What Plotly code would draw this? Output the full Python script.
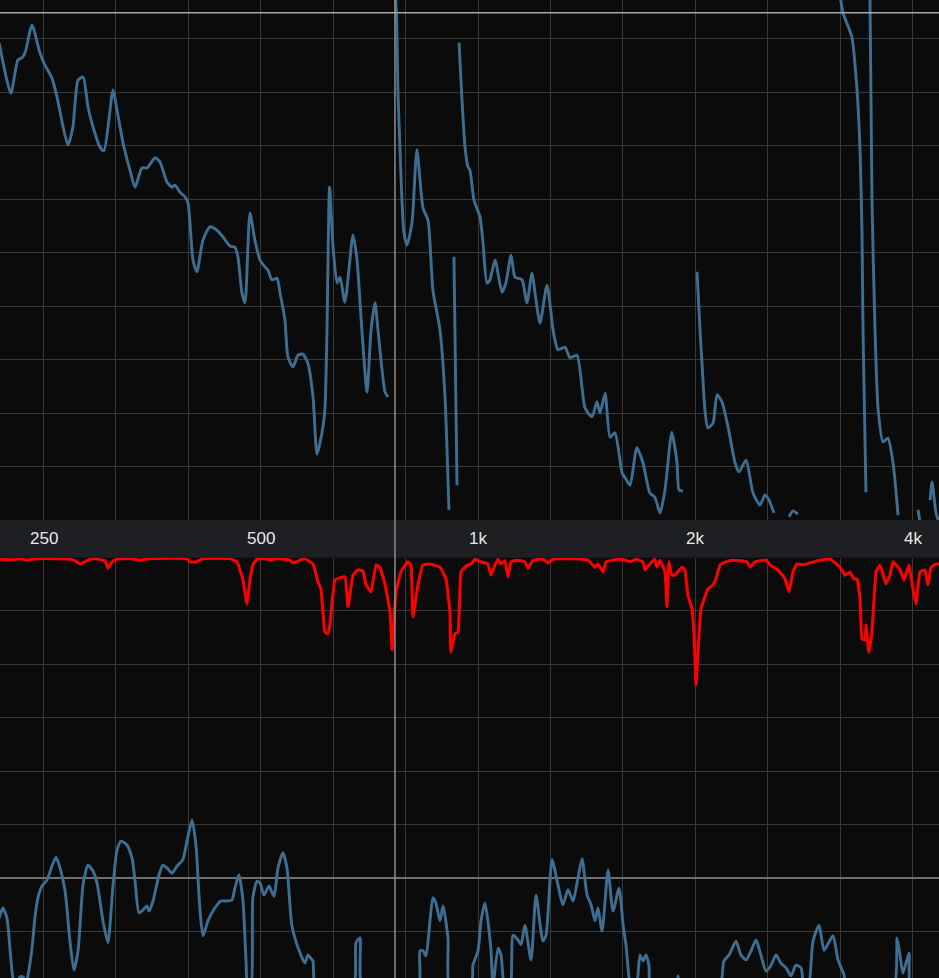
import math
import plotly.graph_objects as go

# ---------------- data ----------------
# frequency-axis gridlines (1/3 octave) and labels
grid_freqs = [250, 315, 397, 500, 630, 794, 1000, 1260, 1587, 2000, 2520, 3175, 4000]
label_freqs = [250, 500, 1000, 2000, 4000]
label_texts = ["250", "500", "1k", "2k", "4k"]

# top panel: magnitude (dB), None = gap in trace
mag_freq = [217, 225.3, 230.4, 233.4, 235.7, 241.0, 247.2, 251.2, 256.8, 261.0, 266.1, 270.3, 274.6, 279.1,
            283.6, 288.1, 292.7, 299.4, 303.2, 312.1, 316.1, 322.2, 329.4, 334.8, 342.2, 347.8, 356.9, 362.5,
            370.6, 376.6, 380.2, 386.2, 392.6, 396.4, 402.7, 407.8, 415.7, 425.1, 434.5, 443.2, 453.2, 460.3,
            464.8, 470.8, 475.4, 482.9, 490.7, 498.7, 506.7, 511.5, 518.0, 526.5, 531.6, 540.0, 545.1, 554.0,
            563.0, 572.0, 581.0, 590.6, 598.2, 607.7, 613.4, 617.5, 622.6, 629.6, 637.7, 643.7, 653.8, 671.0,
            679.6, 690.2, 701.7, 710.7, 719.8, 726.6, 743.2, 750.4, None,
            767.8, 771.6, 774.2, 779.2, 784.3, 789.4, 797.0, 809.7, 822.6, 838.8, 852.2, 865.6, 885.5, 899.7,
            911.1, None,
            925.8, 934.8, None,
            940.9, 949.9, 959.0, 968.1, 974.1, 986.9, 1006.1, 1015.7, 1028.5, 1038.5, 1055.4, 1079.2, 1092.7,
            1110.6, 1125.0, 1150.2, 1168.1, 1187.7, 1199.1, 1218.1, 1245.8, 1270.0, 1278.0, 1290.1, 1319.4,
            1340.8, 1370.7, 1406.5, 1438.2, 1460.9, 1475.3, 1499.3, 1523.2, 1547.2, 1582.8, 1598.1, 1623.4,
            1659.0, 1692.0, 1729.7, 1756.6, 1786.4, 1814.9, 1854.8, 1885.9, 1898.0, 1922.1, None,
            2010.2, 2029.4, 2042.2, 2061.4, 2080.6, 2115.5, 2142.6, 2176.5, 2219.1, 2269.3, 2298.1, 2350.3,
            2403.5, 2456.9, 2497.1, 2529.5, 2569.7, None,
            2696.0, 2730.2, 2773.0, None,
            3171.8, 3202.2, 3293.6, 3348.5, 3380.8, 3402.3, 3413.1, 3445.4, None,
            3489.5, 3512.3, 3546.5, 3580.7, 3637.7, 3694.7, 3756.3, 3816.7, None,
            4067.8, 4093.4, None,
            4227, 4254.1, 4308.2, 4362.4]
mag_db = [89.2, 79.8, 86.0, 86.4, 87.3, 92.5, 87.3, 85.0, 82.6, 79.1, 73.5, 70.1, 73.5, 82.2,
          82.8, 77.2, 73.5, 69.7, 69.0, 80.4, 76.6, 70.5, 65.4, 62.2, 65.8, 65.8, 67.7, 66.9,
          63.2, 62.2, 62.6, 61.3, 60.4, 59.3, 48.6, 46.4, 52.3, 54.8, 54.2, 52.9, 51.2, 51.0,
          49.2, 42.4, 40.6, 57.4, 52.3, 48.6, 47.3, 46.7, 44.9, 45.2, 42.4, 37.4, 30.5, 28.6,
          30.8, 31.0, 29.3, 23.0, 12.3, 16.3, 20.6, 35.5, 62.2, 51.0, 44.3, 45.4, 40.7, 53.3,
          48.6, 35.5, 23.9, 35.5, 40.6, 35.5, 23.9, 23.0, None,
          100, 92.2, 80.4, 69.7, 59.8, 53.6, 51.4, 55.5, 69.2, 58.3, 56.1, 43.0, 35.5, 23.0,
          1.9, None,
          49.2, 6.5, None,
          89.2, 78.5, 69.7, 66.0, 65.4, 59.8, 56.6, 51.8, 44.3, 44.9, 48.6, 42.6, 44.3,
          49.5, 45.4, 44.9, 40.6, 46.2, 42.4, 36.8, 43.9, 35.5, 33.6, 31.8, 32.3,
          30.3, 30.8, 20.9, 19.3, 22.1, 20.0, 23.7, 15.5, 16.3, 8.8, 7.9, 6.5,
          13.5, 10.7, 5.0, 4.3, 1.3, 5.6, 16.4, 10.7, 5.6, 5.4, None,
          46.4, 35.5, 29.3, 20.6, 17.2, 18.1, 23.4, 22.1, 17.4, 10.7, 9.0, 11.2,
          5.0, 2.8, 4.7, 3.7, 1.3, None,
          0.6, 1.7, 1.1, None,
          98.1, 94.8, 90.3, 80.4, 69.2, 53.6, 35.5, 5.2, None,
          98.1, 59.8, 35.5, 20.9, 14.6, 15.3, 10.7, 0.9, None,
          1.9, -0.4, None,
          3.7, 7.1, 1.3, -0.9]

# lower panel: coherence (red) and phase (blue), same axis units
coh_freq = [217, 226.8, 231.9, 237.2, 241.7, 249.6, 272.0, 276.4, 280.9, 287.2,
            292.7, 299.4, 304.2, 307.0, 311.1, 316.1, 329.4, 340.1, 351.2, 395.1,
            398.9, 407.8, 415.7, 453.2, 463.3, 472.4, 478.4, 482.9, 487.5, 493.9,
            501.9, 514.7, 526.5, 548.5, 554.0, 566.6, 575.6, 584.9, 590.6, 600.1,
            605.8, 613.4, 619.5, 623.6, 633.6, 653.8, 660.3, 671.0, 681.7, 692.4,
            699.4, 710.7, 722.0, 731.1, 743.2, 755.2, 760.0, 769.6, 781.8, 799.5,
            807.2, 812.3, 825.3, 838.8, 857.6, 885.5, 902.6, 914.0, 916.8, 928.2,
            937.9, 946.9, 962.0, 977.1, 990.1, 1009.3, 1031.7, 1041.9, 1055.4, 1065.6,
            1075.8, 1089.4, 1099.8, 1110.6, 1128.6, 1160.9, 1172.4, 1191.5, 1229.7, 1249.9,
            1270.0, 1397.5, 1420.1, 1451.8, 1465.6, 1489.7, 1504.1, 1537.6, 1561.5, 1603.2,
            1623.4, 1653.9, 1692.0, 1702.8, 1729.7, 1756.6, 1769.3, 1786.4, 1814.9, 1826.3,
            1837.7, 1854.8, 1873.8, 1916.0, 1934.1, 1952.3, 1978.2, 1991.0, 2003.8, 2023.0,
            2035.8, 2080.6, 2115.5, 2135.8, 2163.0, 2203.7, 2255.0, 2357.9, 2380.7, 2418.8,
            2505.3, 2537.5, 2602.0, 2661.9, 2696.0, 2730.2, 2764.4, 2819.4, 2882.7, 2976.5,
            3072.4, 3110.8, 3171.8, 3222.4, 3273.2, 3316.2, 3348.5, 3380.8, 3402.3, 3434.6,
            3445.4, 3477.6, 3512.3, 3557.9, 3603.5, 3672.0, 3720.1, 3756.3, 3840.9, 3889.2,
            3952.8, 4003.8, 4042.2, 4093.4, 4157.6, 4199.7, 4240.5, 4308.2, 4362.4]
coh_val = [59.6, 59.5, 59.7, 59.4, 59.6, 59.7, 59.6, 59.3, 58.7, 59.3,
           59.7, 59.5, 59.3, 57.9, 59.1, 59.6, 59.7, 59.4, 59.7, 59.7,
           59.1, 59.1, 59.7, 59.7, 59.1, 55.7, 51.2, 55.7, 58.5, 59.6,
           59.7, 59.5, 59.7, 59.4, 58.9, 59.4, 59.7, 59.1, 58.7, 55.3,
           54.0, 46.0, 45.6, 47.5, 55.7, 56.3, 50.7, 56.6, 57.6, 57.4,
           54.8, 53.5, 58.5, 58.1, 54.8, 49.7, 42.6, 53.5, 57.2, 59.1,
           58.5, 48.8, 54.8, 58.5, 58.7, 58.1, 55.9, 49.7, 42.2, 45.6,
           46.0, 57.2, 58.3, 58.7, 59.6, 59.1, 58.7, 56.6, 58.5, 59.6,
           58.7, 59.3, 56.3, 59.1, 59.4, 59.1, 57.9, 59.4, 59.6, 58.9,
           59.6, 59.6, 59.4, 58.1, 58.7, 57.2, 59.1, 59.4, 59.6, 59.4,
           59.1, 59.6, 59.1, 57.6, 58.7, 59.6, 58.1, 59.4, 57.2, 50.7,
           59.1, 56.6, 56.6, 58.1, 57.6, 52.9, 50.3, 45.4, 36.1, 45.4,
           50.3, 54.0, 54.8, 55.9, 58.5, 59.1, 59.4, 59.1, 58.1, 59.1,
           59.4, 58.5, 57.6, 55.9, 53.5, 57.2, 58.7, 58.5, 58.9, 59.4,
           59.6, 59.1, 58.1, 56.6, 57.2, 55.9, 55.9, 52.2, 44.7, 44.5,
           47.3, 42.2, 46.0, 57.2, 58.5, 55.0, 56.6, 59.1, 57.6, 55.7,
           58.5, 54.0, 51.2, 57.2, 57.6, 54.8, 58.1, 58.7, 58.7]

ph_freq = [217, 219.6, 222.5, 224.6, 226.8, 228.9, 231.9, 234.2, 236.5, 238.0, 241.0, 243.2, 245.6, 248.8,
           252.8, 256.8, 260.2, 263.5, 267.8, 272.0, 275.5, 279.1, 283.6, 288.1, 292.7, 296.5, 302.2, 307.0,
           312.1, 316.1, 320.1, 326.2, 331.6, 334.8, 339.0, 343.3, 347.6, 350.1, 354.6, 361.4, 365.9, 370.6,
           376.6, 382.6, 389.8, 395.1, 401.5, 406.5, 411.6, 415.7, 422.4, 431.8, 440.4, 448.9, 456.1, 460.3,
           466.3, 472.4, 476.9, 479.9, 484.4, 487.5, 493.9, 498.7, 505.1, 513.1, 521.4, 528.2, 536.6, 543.4,
           551.9, 561.2, 575.6, 581.0, 588.7, 590.6, 596.3, 671.0, 677.4, 686.0, 692.4, 825.3, 830.7, 838.8,
           846.8, 857.6, 865.6, 874.1, 885.5, 894.0, 908.3, 914.0, 977.1, 983.7, 999.7, 1009.3, 1022.1, 1041.3,
           1048.7, 1065.6, 1075.8, 1089.4, 1107.1, 1117.8, 1135.8, 1146.6, 1160.9, 1183.9, 1202.9, 1229.5,
           1241.8, 1266.0, 1290.1, 1310.3, 1332.2, 1353.6, 1375.0, 1393.0, 1415.6, 1433.7, 1451.8, 1465.6,
           1484.9, 1513.6, 1537.6, 1567.6, 1587.9, 1603.2, 1618.4, 1633.6, 1653.9, 1665.1, 1675.9, 1692.0,
           1708.2, 1724.3, 1735.1, 1879.9, 1891.9, 1904.0, 2156.2, 2190.1, 2226.3, 2276.6, 2312.4, 2350.3,
           2388.3, 2426.4, 2464.5, 2505.3, 2545.6, 2585.8, 2626.1, 2670.5, 2713.1, 2755.8, 2801.3, 2828.4,
           2864.6, 2909.9, 2966.9, 3014.8, 3101.2, 3151.4, 3212.4, 3232.7, 3756.3, 3804.6, 3840.9, 3877.1,
           3952.8, 3978.2, 4362.4]
ph_val = [-7.5, -5.6, -7.5, -13.1, -18.7, -19.8, -18.5, -18.5, -19.8, -18.1, -13.1, -7.5, -3.7, -1.5,
          -0.4, 2.2, 3.9, 1.9, -2.4, -11.8, -17.2, -13.6, -1.3, 2.4, 1.3, -0.9, -8.0, -12.1,
          -1.3, 5.2, 6.9, 6.2, 3.7, -0.6, -6.5, -6.0, -5.2, -6.2, -4.3, 0.6, 2.4, 1.9,
          0.9, 2.2, 3.4, 6.9, 10.8, 6.2, -5.6, -10.8, -8.0, -5.6, -4.3, -4.3, -4.1, -1.9,
          0.6, -4.3, -15.3, -20.9, -20.9, -3.7, -0.6, -0.9, -3.2, -1.5, -3.4, 1.9, 4.7, 1.9,
          -8.8, -12.5, -15.9, -14.4, -15.3, -15.5, -20.9, -20.9, -12.1, -11.2, -20.9, -20.9, -13.6, -13.6,
          -14.6, -8.0, -3.7, -4.7, -8.0, -5.2, -11.2, -20.9, -20.9, -16.3, -13.6, -8.0, -4.7, -13.1,
          -20.0, -13.1, -14.4, -20.9, -20.9, -10.7, -11.6, -12.5, -8.8, -15.3, -3.2, -11.8,
          -10.7, 3.4, -1.3, -5.0, -2.2, -4.3, 0.0, 3.6, -3.2, -5.0, -8.0, -5.6,
          -9.9, 1.5, -6.2, -1.9, -8.8, -12.7, -18.7, -20.9, -20.9, -18.1, -14.4, -15.5,
          -14.4, -16.3, -20.9, -20.9, -18.3, -20.9, -20.9, -15.5, -14.4, -11.8, -14.4, -15.3,
          -13.6, -11.6, -14.4, -17.4, -16.3, -14.4, -15.9, -16.8, -18.3, -16.3, -16.8, -20.9,
          -20.9, -11.8, -8.8, -13.5, -10.8, -15.3, -18.1, -20.9, -20.9, -11.2, -14.4, -17.8,
          -14.0, -20.9, -20.9]

cursor_freq = 767
cursor_level = 94.8

assert len(mag_freq) == len(mag_db), (len(mag_freq), len(mag_db))
assert len(coh_freq) == len(coh_val), (len(coh_freq), len(coh_val))
assert len(ph_freq) == len(ph_val), (len(ph_freq), len(ph_val))

# ---------------- style ----------------
BG = "#0b0b0b"
BAND = "#1e1f23"
GRID = "#393939"
BLUE = "#3e6f92"
RED = "#ff0000"
X_RANGE = [2.33768, 3.63842]

fig = go.Figure()
fig.add_trace(go.Scatter(x=mag_freq, y=mag_db, xaxis="x", yaxis="y", mode="lines",
                         line=dict(color=BLUE, width=2.9, shape="spline", smoothing=0.6),
                         connectgaps=False, hoverinfo="skip"))
fig.add_trace(go.Scatter(x=ph_freq, y=ph_val, xaxis="x2", yaxis="y2", mode="lines",
                         line=dict(color=BLUE, width=2.9, shape="spline", smoothing=0.6),
                         hoverinfo="skip"))
fig.add_trace(go.Scatter(x=coh_freq, y=coh_val, xaxis="x2", yaxis="y2", mode="lines",
                         line=dict(color=RED, width=3.0, shape="spline", smoothing=0.3),
                         hoverinfo="skip"))

xcommon = dict(type="log", range=X_RANGE, tickmode="array", tickvals=grid_freqs,
               showticklabels=False, ticks="", showgrid=True, gridcolor=GRID, gridwidth=1.4,
               zeroline=False, showline=False, fixedrange=True)
fig.update_layout(
    width=939, height=978,
    margin=dict(l=0, r=0, t=0, b=0),
    paper_bgcolor=BAND, plot_bgcolor=BG,
    showlegend=False,
    xaxis=dict(domain=[0, 1], anchor="y", **xcommon),
    xaxis2=dict(domain=[0, 1], anchor="y2", matches="x", **xcommon),
    yaxis=dict(domain=[0.46830, 1], range=[0, 97.196], tick0=0, dtick=10, showticklabels=False,
               ticks="", showgrid=True, gridcolor=GRID, gridwidth=1.4, zeroline=False, fixedrange=True),
    yaxis2=dict(domain=[0, 0.42975], range=[-18.69, 59.87], tick0=0, dtick=10, showticklabels=False,
                ticks="", showgrid=True, gridcolor=GRID, gridwidth=1.4, fixedrange=True,
                zeroline=True, zerolinecolor="#707070", zerolinewidth=1.7),
)

# cursor lines
fig.add_shape(type="line", xref="x", yref="paper", x0=cursor_freq, x1=cursor_freq, y0=0, y1=1,
              line=dict(color="#8e8e8e", width=1.5))
fig.add_shape(type="line", xref="paper", yref="y", x0=0, x1=1, y0=cursor_level, y1=cursor_level,
              line=dict(color="#a8a8a8", width=1.5))

# frequency labels in the band
for f, t in zip(label_freqs, label_texts):
    fig.add_annotation(x=math.log10(f), xref="x", y=(978 - 538.5) / 978, yref="paper",
                       text=t, showarrow=False, xanchor="center", yanchor="middle",
                       font=dict(family="Liberation Sans, Arial, sans-serif", size=17, color="#e8e8e8"))

fig.write_html("out.html", config={"displayModeBar": False},
               post_script="document.body.style.margin='0';document.body.style.overflow='hidden';")
